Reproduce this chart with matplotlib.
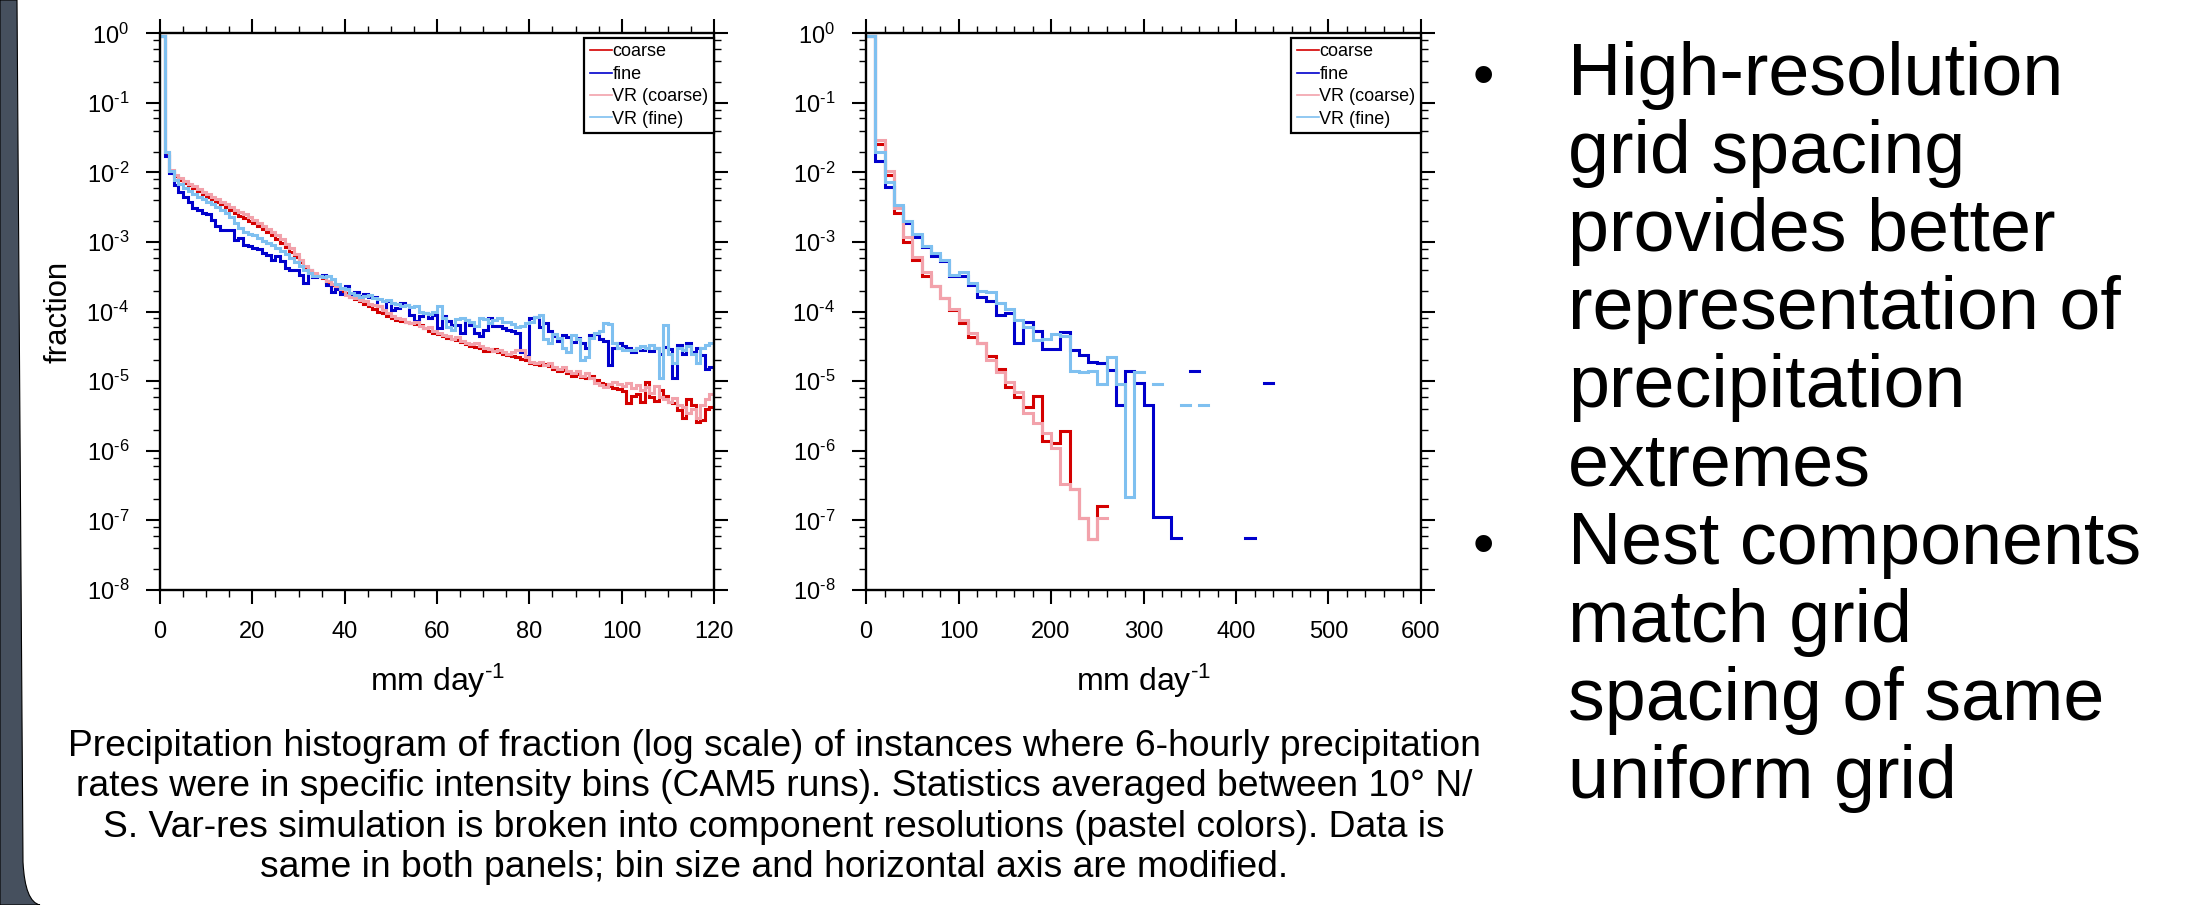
import numpy as np
import matplotlib
matplotlib.use("Agg")
import matplotlib.pyplot as plt
from matplotlib.lines import Line2D
from matplotlib.ticker import FixedLocator, MultipleLocator, LogLocator, FuncFormatter, NullFormatter
from matplotlib.path import Path
from matplotlib.patches import PathPatch

# ---------------- data ----------------
series_labels = ["coarse", "fine", "VR (coarse)", "VR (fine)"]
series_colors = ["#d40000", "#0000cc", "#f2a2ab", "#7fc0f0"]

# left panel: 1 mm/day bins from 0 to 120
bin_width_left = 1.0
coarse_left = [
    0.92, 0.019, 0.0105, 0.0088, 0.0078, 0.0071, 0.0065, 0.0059, 0.0054, 0.0049,
    0.0045, 0.0041, 0.0038, 0.0035, 0.0032, 0.0029, 0.0026, 0.0024, 0.0022, 0.0020,
    0.00185, 0.0017, 0.00152, 0.00138, 0.00125, 0.00112, 0.00098, 0.00085, 0.00072, 0.00062,
    0.00052, 0.00043, 0.00038, 0.00035, 0.00032, 0.00030, 0.00027, 0.00024, 0.00022, 0.000195,
    0.000185, 0.000165, 0.000150, 0.000140, 0.000128, 0.000120, 0.000108, 0.000100, 0.000095, 0.000088,
    8.2e-5, 7.7e-5, 7.4e-5, 7.0e-5, 6.8e-5, 6.6e-5, 6.4e-5, 5.8e-5, 5.2e-5, 4.9e-5,
    4.7e-5, 4.4e-5, 4.2e-5, 4.0e-5, 3.9e-5, 3.7e-5, 3.4e-5, 3.2e-5, 3.1e-5, 3.0e-5,
    2.7e-5, 2.7e-5, 2.9e-5, 2.6e-5, 2.5e-5, 2.4e-5, 2.3e-5, 2.2e-5, 2.1e-5, 2.0e-5,
    1.85e-5, 1.75e-5, 1.7e-5, 1.75e-5, 1.65e-5, 1.5e-5, 1.4e-5, 1.45e-5, 1.3e-5, 1.2e-5,
    1.28e-5, 1.15e-5, 1.1e-5, 1.18e-5, 1.05e-5, 9.5e-6, 9.0e-6, 8.5e-6, 8.0e-6, 7.8e-6,
    7.2e-6, 4.8e-6, 6.2e-6, 6.5e-6, 5.0e-6, 9.8e-6, 6.0e-6, 5.2e-6, 7.5e-6, 6.2e-6,
    5.0e-6, 4.8e-6, 3.8e-6, 3.0e-6, 5.5e-6, 4.5e-6, 2.6e-6, 2.8e-6, 4.0e-6, 4.2e-6]
fine_left = [
    0.92, 0.017, 0.0098, 0.0067, 0.0053, 0.0045, 0.0038, 0.0031, 0.0029, 0.0026,
    0.0025, 0.0021, 0.0017, 0.0015, 0.0015, 0.0015, 0.00108, 0.00114, 0.00092, 0.00087,
    0.00083, 0.00079, 0.00070, 0.00066, 0.00056, 0.00063, 0.00053, 0.00042, 0.00040, 0.00040,
    0.00034, 0.00026, 0.00040, 0.00031, 0.00032, 0.00034, 0.00024, 0.00019, 0.00021, 0.00018,
    0.00023, 0.00018, 0.00019, 0.00017, 0.00018, 0.000165, 0.000160, 0.000119, 0.000107, 0.000141,
    0.000107, 0.000112, 0.000132, 0.000125, 9.1e-5, 7.3e-5, 8.7e-5, 9.7e-5, 8.2e-5, 9.1e-5,
    5.8e-5, 8.7e-5, 7.3e-5, 6.5e-5, 6.5e-5, 4.9e-5, 7.7e-5, 6.5e-5, 4.9e-5, 4.5e-5,
    5.5e-5, 8.2e-5, 6.2e-5, 6.2e-5, 5.8e-5, 5.5e-5, 5.2e-5, 5.0e-5, 2.6e-5, 2.3e-5,
    8.2e-5, 8.5e-5, 6.0e-5, 6.8e-5, 5.2e-5, 4.5e-5, 3.8e-5, 4.6e-5, 4.3e-5, 3.7e-5,
    4.2e-5, 3.5e-5, 3.0e-5, 4.6e-5, 4.8e-5, 4.0e-5, 3.8e-5, 1.7e-5, 3.0e-5, 3.6e-5,
    3.2e-5, 3.0e-5, 2.6e-5, 3.0e-5, 2.8e-5, 3.0e-5, 2.7e-5, 3.0e-5, 2.5e-5, 3.1e-5,
    2.9e-5, 1.1e-5, 3.3e-5, 2.5e-5, 3.5e-5, 2.6e-5, 3.0e-5, 2.4e-5, 1.5e-5, 1.6e-5]
vr_coarse_left = [
    0.92, 0.020, 0.0110, 0.0092, 0.0083, 0.0075, 0.0069, 0.0063, 0.0058, 0.0053,
    0.0049, 0.0045, 0.0041, 0.0038, 0.0035, 0.0032, 0.0029, 0.0027, 0.0025, 0.0023,
    0.0021, 0.0019, 0.0017, 0.00155, 0.0014, 0.00125, 0.0011, 0.00095, 0.00082, 0.00068,
    0.00056, 0.00046, 0.00040, 0.00036, 0.00033, 0.00031, 0.00028, 0.00025, 0.00023, 0.00021,
    0.000175, 0.000165, 0.000155, 0.000145, 0.000140, 0.000128, 0.000125, 0.000122, 0.000105, 0.000095,
    8.8e-5, 8.2e-5, 7.8e-5, 7.2e-5, 6.8e-5, 7.2e-5, 6.2e-5, 5.8e-5, 6.0e-5, 5.2e-5,
    5.0e-5, 4.6e-5, 4.4e-5, 4.1e-5, 4.3e-5, 3.8e-5, 3.6e-5, 3.4e-5, 3.6e-5, 3.2e-5,
    3.0e-5, 2.9e-5, 2.7e-5, 2.8e-5, 2.6e-5, 2.5e-5, 2.6e-5, 2.8e-5, 2.8e-5, 2.2e-5,
    1.9e-5, 1.8e-5, 1.9e-5, 1.7e-5, 1.8e-5, 1.6e-5, 1.5e-5, 1.6e-5, 1.4e-5, 1.3e-5,
    1.4e-5, 1.2e-5, 1.3e-5, 1.1e-5, 9.5e-6, 8.8e-6, 8.2e-6, 9.2e-6, 9.8e-6, 9.0e-6,
    8.5e-6, 9.5e-6, 8.0e-6, 8.8e-6, 7.5e-6, 8.2e-6, 6.8e-6, 8.5e-6, 6.0e-6, 5.5e-6,
    5.0e-6, 5.8e-6, 4.6e-6, 4.2e-6, 3.5e-6, 4.0e-6, 3.0e-6, 4.5e-6, 5.5e-6, 6.5e-6]
vr_fine_left = [
    0.92, 0.020, 0.0105, 0.0078, 0.0068, 0.0060, 0.0054, 0.0049, 0.0045, 0.0042,
    0.0038, 0.0035, 0.0032, 0.0029, 0.0026, 0.0023, 0.0019, 0.0016, 0.0014, 0.0013,
    0.00125, 0.00115, 0.00105, 0.00098, 0.00090, 0.00082, 0.00075, 0.00068, 0.00060, 0.00052,
    0.00045, 0.00040, 0.00036, 0.00033, 0.00033, 0.00031, 0.00033, 0.00029, 0.00025, 0.00022,
    0.00021, 0.000185, 0.000175, 0.000165, 0.000170, 0.000175, 0.000155, 0.000150, 0.000140, 0.000145,
    0.000135, 0.000130, 0.000120, 0.000125, 0.000115, 0.000120, 0.000100, 9.5e-5, 9.2e-5, 9.8e-5,
    1.2e-4, 8.2e-5, 6.0e-5, 5.5e-5, 7.8e-5, 8.0e-5, 7.5e-5, 7.0e-5, 6.2e-5, 8.0e-5,
    7.8e-5, 6.8e-5, 7.5e-5, 8.2e-5, 7.0e-5, 7.2e-5, 6.6e-5, 6.0e-5, 6.2e-5, 6.8e-5,
    7.2e-5, 8.5e-5, 9.0e-5, 4.0e-5, 3.6e-5, 4.8e-5, 4.2e-5, 3.0e-5, 2.6e-5, 4.6e-5,
    4.0e-5, 2.0e-5, 2.2e-5, 4.2e-5, 5.0e-5, 5.2e-5, 6.8e-5, 6.6e-5, 3.5e-5, 3.0e-5,
    2.8e-5, 2.8e-5, 2.8e-5, 3.0e-5, 3.2e-5, 3.0e-5, 3.3e-5, 3.0e-5, 1.1e-5, 6.5e-5,
    2.5e-5, 1.8e-5, 3.0e-5, 2.8e-5, 3.2e-5, 2.5e-5, 1.8e-5, 3.0e-5, 3.3e-5, 3.5e-5]

# right panel: 10 mm/day bins (nan = empty bin)
nan = float("nan")
bin_width_right = 10.0
coarse_right = [
    0.92, 0.026, 0.0091, 0.0026, 0.00099, 5.6e-4, 3.3e-4, 2.36e-4, 1.57e-4, 1.07e-4,
    6.9e-5, 4.3e-5, 3.5e-5, 2.3e-5, 1.5e-5, 8.4e-6, 6.0e-6, 4.3e-6, 6.1e-6, 1.4e-6,
    1.3e-6, 1.9e-6, 2.8e-7, 1.1e-7, 5.4e-8, 1.6e-7]
fine_right = [
    0.92, 0.0147, 0.0062, 0.0032, 0.00187, 0.0012, 8.5e-4, 6.4e-4, 5.3e-4, 3.2e-4,
    3.2e-4, 2.44e-4, 1.6e-4, 1.4e-4, 9.1e-5, 9.6e-5, 3.6e-5, 7.1e-5, 5.2e-5, 2.9e-5,
    2.9e-5, 5.1e-5, 2.8e-5, 2.4e-5, 1.9e-5, 1.85e-5, 1.43e-5, 4.5e-6, 1.4e-5, 9.4e-6,
    4.6e-6, 1.13e-7, 1.13e-7, 5.6e-8, nan, 1.42e-5, nan, nan, nan, nan,
    nan, 5.6e-8, nan, 9.3e-6]
vr_coarse_right = [
    0.92, 0.029, 0.0104, 0.0031, 0.00118, 6.2e-4, 3.7e-4, 2.3e-4, 1.55e-4, 1.1e-4,
    7.7e-5, 4.9e-5, 3.5e-5, 2.0e-5, 1.36e-5, 9.8e-6, 7.0e-6, 3.5e-6, 2.5e-6, 1.8e-6,
    1.09e-6, 3.3e-7, 2.8e-7, 1.1e-7, 5.4e-8, 1.1e-7]
vr_fine_right = [
    0.92, 0.0196, 0.0074, 0.0034, 0.0020, 0.0013, 8.9e-4, 6.9e-4, 5.6e-4, 3.4e-4,
    3.7e-4, 2.6e-4, 1.96e-4, 1.9e-4, 1.33e-4, 1.1e-4, 7.6e-5, 6.0e-5, 3.9e-5, 4.1e-5,
    4.7e-5, 4.5e-5, 1.4e-5, 1.38e-5, 1.4e-5, 9.2e-6, 2.2e-5, 9.2e-6, 2.2e-7, 1.35e-5,
    nan, 9.2e-6, nan, nan, 4.6e-6, nan, 4.6e-6]

x_ticks_left = [0, 20, 40, 60, 80, 100, 120]
x_ticks_right = [0, 100, 200, 300, 400, 500, 600]
y_exponents = [0, -1, -2, -3, -4, -5, -6, -7, -8]

caption_lines = [
    "Precipitation histogram of fraction (log scale) of instances where 6-hourly precipitation",
    "rates were in specific intensity bins (CAM5 runs). Statistics averaged between 10\u00b0 N/",
    "S. Var-res simulation is broken into component resolutions (pastel colors). Data is",
    "same in both panels; bin size and horizontal axis are modified.",
]
bullet_points = [
    ["High-resolution", "grid spacing", "provides better", "representation of",
     "precipitation", "extremes"],
    ["Nest components", "match grid", "spacing of same", "uniform grid"],
]

# ---------------- fonts ----------------
FONT = ["Liberation Sans", "DejaVu Sans"]
plt.rcParams["font.family"] = FONT
plt.rcParams["mathtext.fontset"] = "custom"
plt.rcParams["mathtext.rm"] = "Liberation Sans"
plt.rcParams["mathtext.it"] = "Liberation Sans:italic"
plt.rcParams["mathtext.bf"] = "Liberation Sans:bold"
plt.rcParams["mathtext.default"] = "rm"

# ---------------- figure ----------------
W, H = 2210, 905
fig = plt.figure(figsize=(W / 100, H / 100), dpi=100)
fig.patch.set_facecolor("white")

bg = fig.add_axes([0, 0, 1, 1], zorder=-5)
bg.set_xlim(0, W)
bg.set_ylim(H, 0)
bg.axis("off")

# dark slide margin with rounded lower-left corner of the white area
verts = [(0, 0), (17, 0), (23, 862), (25, 902), (40, 905), (0, 905), (0, 0)]
codes = [Path.MOVETO, Path.LINETO, Path.LINETO, Path.CURVE3, Path.CURVE3,
         Path.LINETO, Path.CLOSEPOLY]
bg.add_patch(PathPatch(Path(verts, codes), facecolor="#46505e",
                       edgecolor="black", lw=0.8))

AX_TOP, AX_BOT = 33.3, 590.0


def px_axes(l, r):
    return fig.add_axes([l / W, 1 - AX_BOT / H, (r - l) / W, (AX_BOT - AX_TOP) / H])


def exp_label(v, pos):
    e = int(round(np.log10(v)))
    if e < 0:
        return r"10$^{\text{-}%d}$" % (-e)
    return r"10$^{%d}$" % e


def style(ax, xticks, xminor):
    ax.set_yscale("log")
    ax.set_ylim(10.0 ** min(y_exponents), 10.0 ** max(y_exponents))
    ax.set_xlim(xticks[0], xticks[-1])
    ax.xaxis.set_major_locator(FixedLocator(xticks))
    ax.xaxis.set_minor_locator(MultipleLocator(xminor))
    ax.yaxis.set_major_locator(FixedLocator([10.0 ** e for e in y_exponents]))
    ax.yaxis.set_minor_locator(LogLocator(base=10, subs=(2, 4, 6, 8), numticks=30))
    ax.yaxis.set_major_formatter(FuncFormatter(exp_label))
    ax.yaxis.set_minor_formatter(NullFormatter())
    for s in ax.spines.values():
        s.set_linewidth(1.7)
    ax.tick_params(which="both", direction="out", top=True, right=True,
                   labelsize=17, colors="black")
    ax.tick_params(which="major", length=10.3, width=1.5)
    ax.tick_params(which="minor", length=5.0, width=1.0)
    ax.tick_params(axis="x", which="major", pad=12)
    ax.tick_params(axis="y", which="major", pad=12)
    ax.set_xlabel(r"mm day$^{\text{-}1}$", fontsize=23)
    ax.xaxis.set_label_coords(0.5, -(662 - AX_BOT) / (AX_BOT - AX_TOP))


def plot_panel(ax, width, series):
    for vals, c in zip(series, series_colors):
        v = np.asarray(vals, float)
        edges = np.arange(len(v) + 1) * width
        ax.step(edges, np.append(v, v[-1]), where="post", color=c, lw=2.2,
                solid_joinstyle="miter")
    handles = [Line2D([], [], color=c, lw=1.2) for c in series_colors]
    leg = ax.legend(handles, series_labels, loc="upper right",
                    bbox_to_anchor=(1, 1 - 4.7 / (AX_BOT - AX_TOP)), borderaxespad=0,
                    frameon=True, fancybox=False, edgecolor="black",
                    framealpha=1, fontsize=13, handlelength=1.2,
                    handletextpad=0.05, labelspacing=0.3, borderpad=0.3)
    leg.get_frame().set_linewidth(1.6)


ax1 = px_axes(160, 714)
style(ax1, x_ticks_left, 5)
plot_panel(ax1, bin_width_left,
           [coarse_left, fine_left, vr_coarse_left, vr_fine_left])
ax1.set_ylabel("fraction", fontsize=22.3)
ax1.yaxis.set_label_coords(-0.156, 0.5)

ax2 = px_axes(866, 1421)
style(ax2, x_ticks_right, 20)
plot_panel(ax2, bin_width_right,
           [coarse_right, fine_right, vr_coarse_right, vr_fine_right])

# caption
cap_baselines = [756, 796, 837, 877]
for line, yb in zip(caption_lines, cap_baselines):
    bg.text(774, yb, line, ha="center", va="baseline", fontsize=26.8,
            color="black")

# bullet text
line0, step = 95, 78.1
i = 0
for block in bullet_points:
    bg.text(1483, line0 + i * step, "\u2022", ha="center", va="baseline",
            fontsize=44, color="black")
    for ln in block:
        bg.text(1568, line0 + i * step, ln, ha="left", va="baseline",
                fontsize=53, color="black")
        i += 1

fig.savefig("out.png", dpi=100, facecolor="white")
